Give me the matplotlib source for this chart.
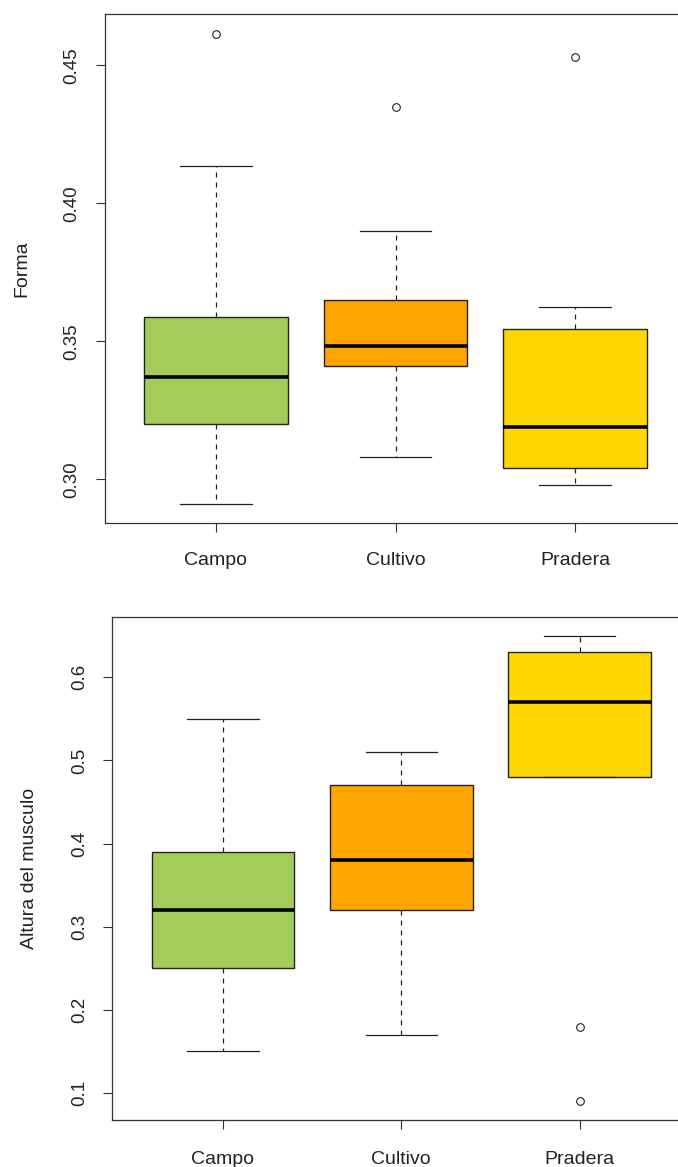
import matplotlib.pyplot as plt

plt.rcParams['font.family'] = ['Liberation Sans', 'DejaVu Sans']

groups = ['Campo', 'Cultivo', 'Pradera']
colors = ['#A2CD5A', '#FFA500', '#FFD700']

# Forma
forma_whislo = [0.291, 0.308, 0.298]
forma_q1 = [0.320, 0.341, 0.304]
forma_med = [0.337, 0.3485, 0.319]
forma_q3 = [0.359, 0.365, 0.3545]
forma_whishi = [0.4135, 0.390, 0.3625]
forma_fliers = [[0.4615], [0.435], [0.453]]
forma_ticks = [0.30, 0.35, 0.40, 0.45]
forma_ticklabels = ['0.30', '0.35', '0.40', '0.45']

# Altura del musculo
alt_whislo = [0.15, 0.17, 0.48]
alt_q1 = [0.25, 0.32, 0.48]
alt_med = [0.32, 0.38, 0.57]
alt_q3 = [0.39, 0.47, 0.63]
alt_whishi = [0.55, 0.51, 0.65]
alt_fliers = [[], [], [0.18, 0.09]]
alt_ticks = [0.1, 0.2, 0.3, 0.4, 0.5, 0.6]
alt_ticklabels = ['0.1', '0.2', '0.3', '0.4', '0.5', '0.6']


def make_stats(whislo, q1, med, q3, whishi, fliers):
    stats = []
    for i in range(len(groups)):
        stats.append({'whislo': whislo[i], 'q1': q1[i], 'med': med[i],
                      'q3': q3[i], 'whishi': whishi[i], 'fliers': fliers[i],
                      'label': groups[i]})
    return stats


def draw(ax, stats, ylabel, ticks, ticklabels, ylim, label_x, xpad):
    bp = ax.bxp(stats, positions=[1, 2, 3], widths=0.8, capwidths=0.4,
                patch_artist=True,
                boxprops=dict(edgecolor='#222222', linewidth=1.0),
                medianprops=dict(color='black', linewidth=2.6, solid_capstyle='butt'),
                whiskerprops=dict(color='#222222', linewidth=0.9, linestyle=(0, (4, 4))),
                capprops=dict(color='#222222', linewidth=0.9),
                flierprops=dict(marker='o', markersize=5.5, markerfacecolor='none',
                                markeredgecolor='#222222', markeredgewidth=0.8))
    for patch, c in zip(bp['boxes'], colors):
        patch.set_facecolor(c)
    ax.set_xlim(0.38, 3.62)
    ax.set_ylim(*ylim)
    ax.set_yticks(ticks)
    ax.set_yticklabels(ticklabels, rotation=90, va='center', fontsize=13.5, color='#222222')
    ax.set_xticks([1, 2, 3])
    ax.set_xticklabels(groups, fontsize=14, color='#222222')
    ax.tick_params(axis='y', length=6.5, width=0.8, pad=11, color='#333333')
    ax.tick_params(axis='x', length=6.5, width=0.8, pad=xpad, color='#333333')
    for s in ax.spines.values():
        s.set_color('#333333')
        s.set_linewidth(0.9)
    ax.set_ylabel(ylabel, fontsize=14, color='#222222')
    ax.yaxis.label.set_verticalalignment('center')
    ax.yaxis.set_label_coords(label_x, 0.5)


fig = plt.figure(figsize=(6.78, 11.67), dpi=100)

ax1 = fig.add_axes([104.7 / 678, 1 - 523 / 1167, 581.6 / 678, 509 / 1167])
draw(ax1, make_stats(forma_whislo, forma_q1, forma_med, forma_q3, forma_whishi, forma_fliers),
     'Forma', forma_ticks, forma_ticklabels, (0.2842, 0.4686), (22 - 104.7) / 581.6, 14.5)

ax2 = fig.add_axes([112.3 / 678, 1 - 1120 / 1167, 578 / 678, 503 / 1167])
draw(ax2, make_stats(alt_whislo, alt_q1, alt_med, alt_q3, alt_whishi, alt_fliers),
     'Altura del musculo', alt_ticks, alt_ticklabels, (0.0676, 0.6724), (30 - 112.3) / 578, 16)

fig.savefig('out.png', dpi=100)
